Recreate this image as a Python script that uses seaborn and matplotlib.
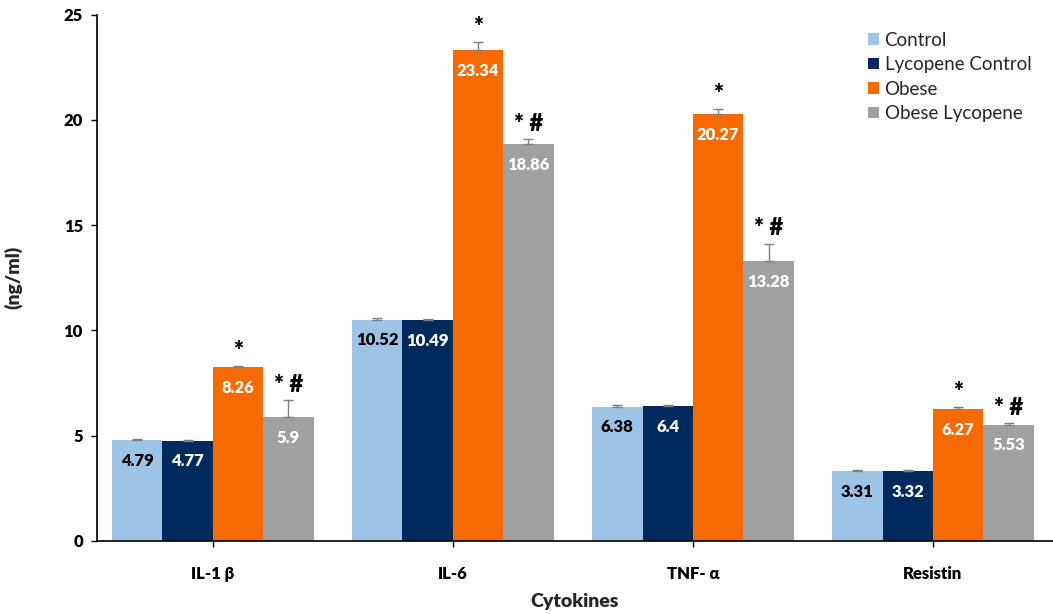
import matplotlib
matplotlib.use("Agg")
import matplotlib.pyplot as plt
import seaborn as sns
import pandas as pd

cytokines = ["IL-1 \u03b2", "IL-6", "TNF- \u03b1", "Resistin"]
groups = ["Control", "Lycopene Control", "Obese", "Obese Lycopene"]

control = [4.79, 10.52, 6.38, 3.31]
lyco_control = [4.77, 10.49, 6.4, 3.32]
obese = [8.26, 23.34, 20.27, 6.27]
obese_lyco = [5.9, 18.86, 13.28, 5.53]

control_err = [0.04, 0.05, 0.06, 0.04]
lyco_control_err = [0.04, 0.05, 0.06, 0.04]
obese_err = [0.06, 0.35, 0.25, 0.1]
obese_lyco_err = [0.8, 0.25, 0.85, 0.06]

obese_mark = ["*", "*", "*", "*"]
obese_lyco_mark = ["* #", "* #", "* #", "* #"]

colors = ["#9DC3E6", "#002A5E", "#F76A00", "#A0A0A0"]
label_colors = ["black", "white", "white", "white"]

values = [control, lyco_control, obese, obese_lyco]
errors = [control_err, lyco_control_err, obese_err, obese_lyco_err]
marks = [None, None, obese_mark, obese_lyco_mark]

rows = []
for g, vals in zip(groups, values):
    for c, v in zip(cytokines, vals):
        rows.append({"Cytokines": c, "group": g, "value": v})
df = pd.DataFrame(rows)

sns.set_style("white")
plt.rcParams["font.family"] = ["Lato", "DejaVu Sans"]

fig = plt.figure(figsize=(10.53, 6.14), dpi=100)
ax = fig.add_axes([0.092, 0.119, 0.908, 0.857])

sns.barplot(data=df, x="Cytokines", y="value", hue="group", order=cytokines,
            hue_order=groups, palette=colors, width=0.84, errorbar=None,
            saturation=1, linewidth=0, ax=ax)

bar_containers = list(ax.containers)
for i, cont in enumerate(bar_containers):
    for j, bar in enumerate(cont):
        xc = bar.get_x() + bar.get_width() / 2
        h = bar.get_height()
        err = errors[i][j]
        ax.errorbar(xc, h, yerr=[[0], [err]], fmt="none", ecolor="#7F7F7F",
                    elinewidth=1, capsize=3.5, capthick=1)
        ax.annotate(f"{values[i][j]:g}", (xc, h), xytext=(0, -15),
                    textcoords="offset points", ha="center", va="center",
                    fontsize=12, fontweight="heavy", color=label_colors[i])
        if marks[i] is not None:
            ax.annotate(marks[i][j], (xc, h + err), xytext=(0, 3),
                        textcoords="offset points", ha="center", va="bottom",
                        fontsize=17, fontweight="heavy", color="black")

ax.set_xlim(-0.483, 3.5)
ax.set_ylim(0, 25)
ax.set_yticks([0, 5, 10, 15, 20, 25])
ax.set_xlabel("Cytokines", fontsize=14, fontweight="heavy", labelpad=8)
ax.set_ylabel("(ng/ml)", fontsize=14, fontweight="heavy", labelpad=30)
for lab in ax.get_xticklabels() + ax.get_yticklabels():
    lab.set_fontweight("heavy")
ax.tick_params(axis="both", labelsize=12, direction="out", length=4, width=1,
               colors="black", bottom=True, left=True)
ax.tick_params(axis="x", pad=14)
ax.tick_params(axis="y", pad=6)
sns.despine(ax=ax)
ax.spines["left"].set_color("black")
ax.spines["bottom"].set_color("black")
ax.spines["left"].set_linewidth(1.2)
ax.spines["bottom"].set_linewidth(1.2)

leg = ax.legend(loc="upper right", bbox_to_anchor=(0.995, 1.0), frameon=False,
                fontsize=13.5, handlelength=0.6, handleheight=0.6,
                handletextpad=0.3, labelspacing=0.4, title=None)

fig.savefig("out.png", dpi=100)
